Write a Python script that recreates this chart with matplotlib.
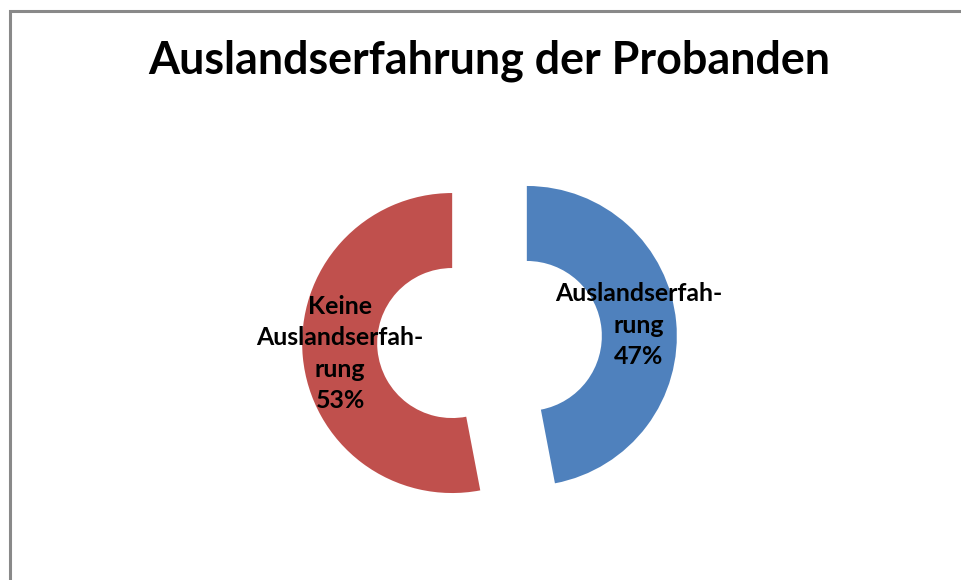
import matplotlib.pyplot as plt
from matplotlib.patches import Rectangle

# Data
categories = ["Auslandserfah-\nrung", "Keine\nAuslandserfah-\nrung"]
shares = [47, 53]
colors = ["#4F81BD", "#C0504D"]
title = "Auslandserfahrung der Probanden"

W, H = 962, 580
cx, cy, rpx = 489.5, 339.5, 150.0  # pie centre and radius in pixels

fig = plt.figure(figsize=(W / 100, H / 100), dpi=100)
ax = fig.add_axes([0, 0, 1, 1])

labels = [f"{c}\n{v}%" for c, v in zip(categories, shares)]
texts = ax.pie(shares, labels=labels, colors=colors, startangle=90,
               counterclock=False, explode=[0.25, 0.25], radius=1.0,
               labeldistance=0.75, wedgeprops=dict(width=0.5, linewidth=0),
               textprops=dict(ha="center", va="center", fontsize=17.9,
                              fontweight="bold", family="Lato",
                              linespacing=1.45))[1]

ax.set_xlim(-cx / rpx, (W - cx) / rpx)
ax.set_ylim(-(H - cy) / rpx, cy / rpx)
ax.set_aspect("auto")
ax.axis("off")

fig.text(489 / W, 1 - 61 / H, title, ha="center", va="center",
         fontsize=32.3, fontweight="bold", family="Lato")

# chart frame (only top and left edges visible)
fig.patches.append(Rectangle((9.5 / W, -0.1), 1.2, 1 - 10.5 / H + 0.1,
                             transform=fig.transFigure, fill=False,
                             edgecolor="#898989", linewidth=2.2))

plt.savefig("out.png", dpi=100)
